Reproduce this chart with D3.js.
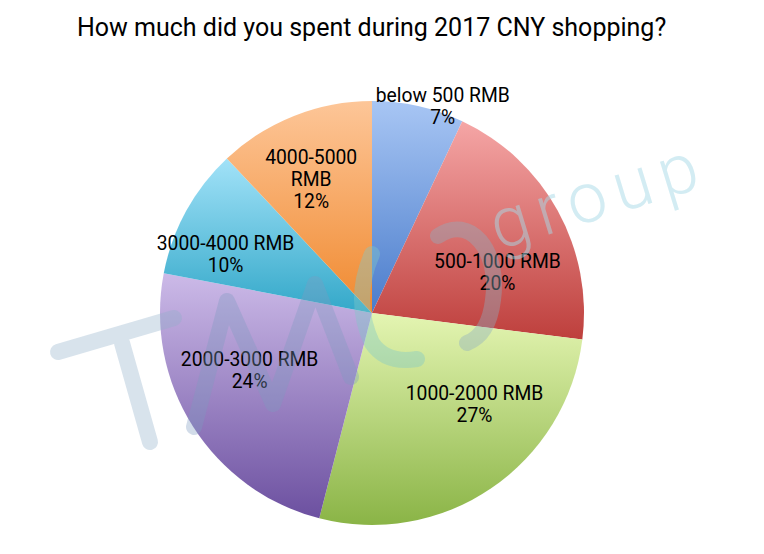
<!DOCTYPE html>
<html>
<head>
<meta charset="utf-8">
<script src="https://cdn.jsdelivr.net/npm/d3@7"></script>
<style>
  html, body { margin: 0; padding: 0; background: #fff; }
  svg { display: block; }
</style>
</head>
<body>
<svg id="chart" width="764" height="554"></svg>
<script>
// ---- data ----
const title = "How much did you spent during 2017 CNY shopping?";
const categories = ["below 500 RMB", "500-1000 RMB", "1000-2000 RMB", "2000-3000 RMB", "3000-4000 RMB", "4000-5000 RMB"];
const values = [7, 20, 27, 24, 10, 12];
const labelLines = [["below 500 RMB"], ["500-1000 RMB"], ["1000-2000 RMB"], ["2000-3000 RMB"], ["3000-4000 RMB"], ["4000-5000", "RMB"]];

// ---- styling / layout (not data) ----
const gradTop = ["#a8c6f4", "#f5a6a6", "#e4f5b2", "#ccbae8", "#a2e2f8", "#fdc698"];
const gradBottom = ["#4a7ccb", "#be3f3c", "#8ab446", "#6c50a0", "#33a8c9", "#f0892e"];
const labelShift = [[43, -83], [14, 21], [31, -14], [-15, -11], [-35, 3], [-14, -16]];

const W = 764, H = 554;
const cx = 372, cy = 313, R = 212;
const svg = d3.select("#chart");
const defs = svg.append("defs");

gradTop.forEach((c, i) => {
  const g = defs.append("linearGradient")
    .attr("id", "g" + i).attr("x1", 0).attr("y1", 0).attr("x2", 0).attr("y2", 1);
  g.append("stop").attr("offset", "0%").attr("stop-color", c);
  g.append("stop").attr("offset", "100%").attr("stop-color", gradBottom[i]);
});

svg.append("text")
  .attr("x", 77).attr("y", 36)
  .attr("font-family", "Roboto, 'Noto Sans', sans-serif")
  .attr("font-size", 25)
  .attr("fill", "#000")
  .text(title);

const pie = d3.pie().sort(null).value(d => d)(values);
const arc = d3.arc().innerRadius(0).outerRadius(R);
const labelArc = d3.arc().innerRadius(R * 0.6).outerRadius(R * 0.6);

const g = svg.append("g").attr("transform", `translate(${cx},${cy})`);
g.selectAll("path.slice").data(pie).join("path")
  .attr("class", "slice")
  .attr("d", arc)
  .attr("fill", (d, i) => `url(#g${i})`);

// ---- watermark (decorative logo) ----
const wm = svg.append("g").attr("pointer-events", "none");
function wmPath(d, color, op, w) {
  wm.append("path").attr("d", d)
    .attr("stroke", color).attr("opacity", op)
    .attr("stroke-width", w || 16)
    .attr("stroke-linecap", "round").attr("stroke-linejoin", "round")
    .attr("fill", "none");
}
wmPath("M58,352 L174,318 M122,343 L150,442", "#8fb0c8", 0.35);
wmPath("M194,427 L227,301 L273,404 L315,284 L351,377", "#7f9cc0", 0.35);
wmPath("M372,254 Q352,300 372,343 Q386,364 417,359", "#7fc8c8", 0.4);
wmPath("M438,236 C470,214 500,250 493,300 C490,325 480,338 467,343", "#8fb0c0", 0.4);
wm.append("text")
  .attr("transform", "translate(498,250) rotate(-17)")
  .attr("font-family", "Roboto, sans-serif")
  .attr("font-weight", 300)
  .attr("font-size", 70)
  .attr("letter-spacing", 9)
  .attr("fill", "#a8dbe8")
  .attr("opacity", 0.5)
  .text("group");

// ---- labels ----
const lg = g.append("g")
  .attr("font-family", "Roboto, 'Noto Sans', sans-serif")
  .attr("font-size", 19.3)
  .attr("fill", "#000")
  .attr("text-anchor", "middle");
pie.forEach((d, i) => {
  const [x, y] = labelArc.centroid(d);
  const lx = x + labelShift[i][0], ly = y + labelShift[i][1];
  const lines = labelLines[i].concat([values[i] + "%"]);
  const t = lg.append("text").attr("x", lx).attr("y", ly);
  lines.forEach((ln, k) => {
    t.append("tspan")
      .attr("x", lx)
      .attr("y", ly + (k - (lines.length - 1) / 2) * 22)
      .attr("dy", "0.35em")
      .text(ln);
  });
});
</script>
</body>
</html>
